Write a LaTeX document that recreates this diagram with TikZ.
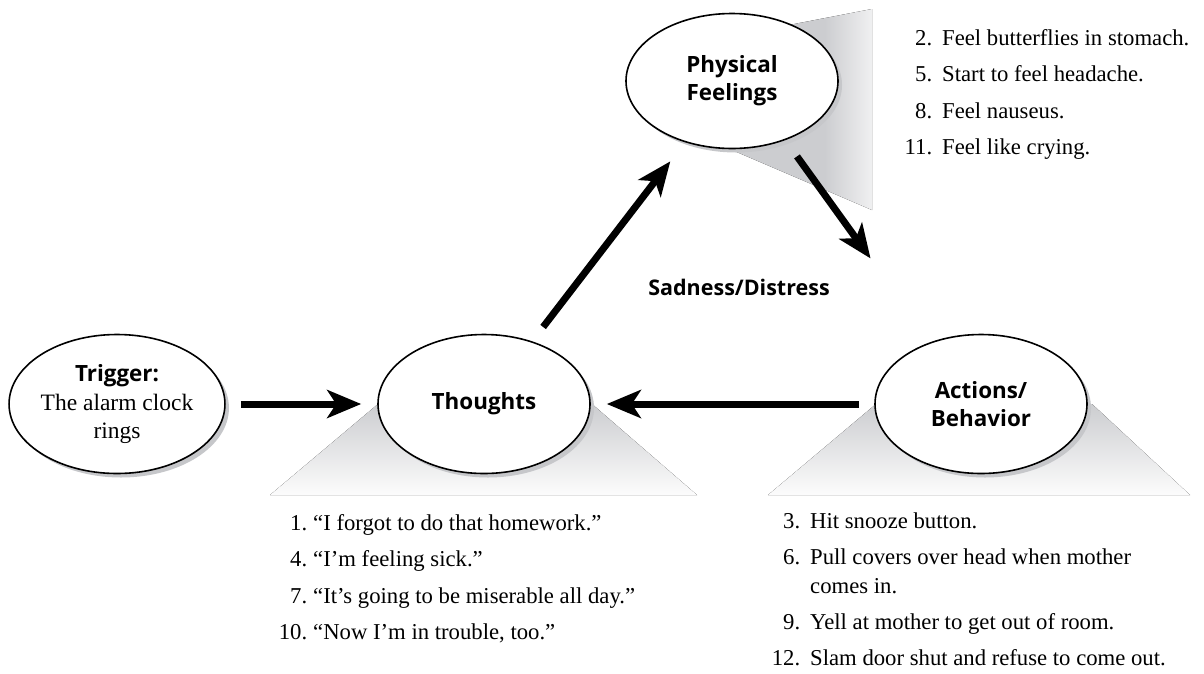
\documentclass[tikz,border=0pt]{standalone}
\usepackage{fontspec}
\setmainfont{Liberation Serif}
\setsansfont{Open Sans}
\usetikzlibrary{arrows.meta,shadows,shapes.geometric}

\definecolor{fadegray}{RGB}{204,205,208}
\definecolor{shadowgray}{RGB}{198,199,202}
\definecolor{fadeend}{RGB}{252,252,252}
\definecolor{sideend}{RGB}{240,240,241}

% side cone: solid grey most of the way, fading out near its outer edge
\pgfdeclarehorizontalshading{sidefade}{100bp}{color(0bp)=(fadegray); color(25bp)=(fadegray);
  color(58bp)=(fadegray); color(75bp)=(sideend); color(100bp)=(sideend)}

% fixed-width, right-aligned item number
\newcommand\nm[1]{\makebox[40pt][r]{#1}}
\newcommand\listfont{\fontsize{22.7}{36.6}\selectfont}
\newcommand\serifpart{\rmfamily\mdseries\fontsize{23.5}{27}\selectfont}

\begin{document}
\begin{tikzpicture}[x=1pt,y=-1pt,
  bubble/.style={ellipse, draw=black, line width=1.6pt, fill=white,
    minimum width=212pt, minimum height=139pt, inner sep=0pt, align=center,
    font=\fontsize{22.4}{28}\selectfont\sffamily\bfseries,
    drop shadow={shadow xshift=4pt, shadow yshift=-4pt, fill=shadowgray, opacity=1}},
  flow/.style={line width=7pt, -{Stealth[length=34pt,width=28pt,inset=9pt]}},
  itemlist/.style={anchor=base west, inner sep=0pt, align=left}
]
\useasboundingbox (0,0) rectangle (1204,673);

% fading cones behind the bubbles
\fill[shading=sidefade]
  (732,36) -- (872,9) -- (872,210) -- (732,150) -- cycle;
\fill[top color=fadegray, bottom color=fadeend]
  (378,404) -- (592,404) -- (697,495) -- (270,495) -- cycle;
\fill[top color=fadegray, bottom color=fadeend]
  (876,404) -- (1092,404) -- (1190,495) -- (768,495) -- cycle;

% bubbles
\node[bubble] (trig) at (117,404)
  {Trigger:\\[1pt]\serifpart The alarm clock\\\serifpart rings};
\node[bubble] (thoughts) at (484,404) {Thoughts};
\node[bubble, minimum height=135pt] (phys) at (732,81) {Physical\\Feelings};
\node[bubble] (actions) at (981,404) {Actions/\\Behavior};

% cycle arrows
\draw[flow, shorten <=15pt, shorten >=16pt] (trig) -- (thoughts);
\draw[flow, shorten <=18pt, shorten >=24pt] (thoughts) -- (phys);
\draw[flow, shorten <=20pt, shorten >=103pt] (phys.-48.7) -- (actions.129);
\draw[flow, shorten <=15pt, shorten >=16pt] (actions) -- (thoughts);

\node[font=\fontsize{21.5}{26}\selectfont\sffamily\bfseries] (emotion) at (739,287) {Sadness/Distress};

% numbered lists
\node[itemlist] (physlist) at (892,45) {\listfont
  \begin{tabular}[t]{@{}l@{}}
  \nm{2.}\hspace{10pt}Feel butterflies in stomach.\\
  \nm{5.}\hspace{10pt}Start to feel headache.\\
  \nm{8.}\hspace{10pt}Feel nauseus.\\
  \nm{11.}\hspace{10pt}Feel like crying.
  \end{tabular}};

\node[itemlist] (thoughtlist) at (267,530) {\listfont
  \begin{tabular}[t]{@{}l@{}}
  \nm{1.}\hspace{6pt}“I forgot to do that homework.”\\
  \nm{4.}\hspace{6pt}“I’m feeling sick.”\\
  \nm{7.}\hspace{6pt}“It’s going to be miserable all day.”\\
  \nm{10.}\hspace{6pt}“Now I’m in trouble, too.”
  \end{tabular}};

\node[itemlist] (actionlist) at (760,528) {\fontsize{22.7}{36}\selectfont
  \begin{tabular}[t]{@{}l@{}}
  \nm{3.}\hspace{10pt}Hit snooze button.\\
  \nm{6.}\hspace{10pt}Pull covers over head when mother\\[-6.5pt]
  \hspace{50pt}comes in.\\
  \nm{9.}\hspace{10pt}Yell at mother to get out of room.\\
  \nm{12.}\hspace{10pt}Slam door shut and refuse to come out.
  \end{tabular}};
\end{tikzpicture}
\end{document}
